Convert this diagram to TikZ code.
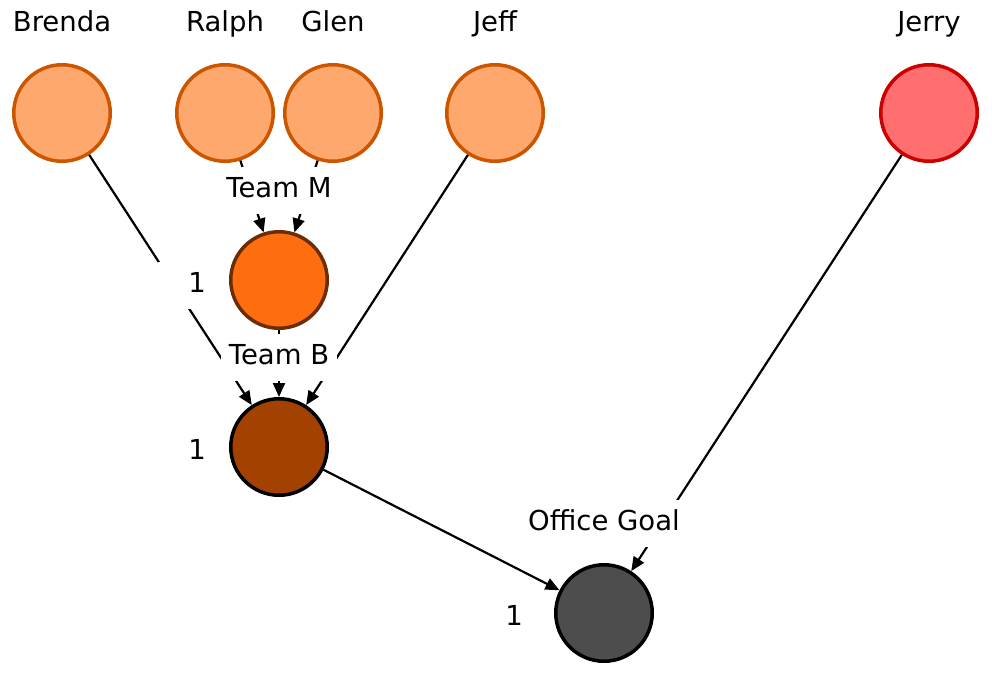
\documentclass[tikz,border=0pt]{standalone}
\usepackage{fontspec}
\setmainfont{DejaVu Sans}
\usetikzlibrary{arrows.meta,positioning}

\definecolor{memberfill}{HTML}{FFA86E}
\definecolor{memberline}{HTML}{CC5500}
\definecolor{leadfill}{HTML}{FF6F6F}
\definecolor{leadline}{HTML}{CC0000}
\definecolor{teammfill}{HTML}{FF6E0E}
\definecolor{teammline}{HTML}{6B2C08}
\definecolor{teambfill}{HTML}{A34100}
\definecolor{goalfill}{HTML}{4D4D4D}

\begin{document}
\begin{tikzpicture}[
    x=1pt, y=-1pt,
    person/.style={circle, draw, line width=3.5pt, minimum size=96.5pt, inner sep=0pt},
    tag/.style={font=\fontsize{27.5pt}{33pt}\selectfont, text height=20pt, text depth=6pt, inner sep=0pt},
    teamlabel/.style={tag, fill=white, inner xsep=8pt, inner ysep=10.5pt},
    wbox/.style={teamlabel, text width=40pt, align=right},
    link/.style={-{Triangle[length=14pt,width=12pt]}, line width=2.2pt}
]
\useasboundingbox (0,0) rectangle (992,677);

% members
\node[person, fill=memberfill, draw=memberline] (brenda) at (62,113) {};
\node[person, fill=memberfill, draw=memberline] (ralph) at (225,113) {};
\node[person, fill=memberfill, draw=memberline] (glen) at (333,113) {};
\node[person, fill=memberfill, draw=memberline] (jeff) at (495,113) {};
\node[person, fill=leadfill, draw=leadline] (jerry) at (929,113) {};

% groups
\node[person, fill=teammfill, draw=teammline] (teamm) at (279,280) {};
\node[person, fill=teambfill, draw=black] (teamb) at (279,447) {};
\node[person, fill=goalfill, draw=black] (goal) at (604,613) {};

\draw[link] (brenda) -- (teamb);
\draw[link] (ralph) -- (teamm);
\draw[link] (glen) -- (teamm);
\draw[link] (jeff) -- (teamb);
\draw[link] (teamm) -- (teamb);
\draw[link] (teamb) -- (goal);
\draw[link] (jerry) -- (goal);

\node[teamlabel, above=16pt of teamm] (teammlabel) {Team M};
\node[teamlabel, above=16pt of teamb] (teamblabel) {Team B};
\node[teamlabel, above=16pt of goal] (goallabel) {Office Goal};

\node[wbox, left=15pt of teamm, yshift=-5pt] (teammweight) {1};
\node[wbox, left=15pt of teamb, yshift=-5pt] (teambweight) {1};
\node[wbox, left=23pt of goal, yshift=-5pt] (goalweight) {1};

\node[tag, above=25pt of brenda] (brendaname) {Brenda};
\node[tag, above=25pt of ralph] (ralphname) {Ralph};
\node[tag, above=25pt of glen] (glenname) {Glen};
\node[tag, above=25pt of jeff] (jeffname) {Jeff};
\node[tag, above=25pt of jerry] (jerryname) {Jerry};
\end{tikzpicture}
\end{document}
